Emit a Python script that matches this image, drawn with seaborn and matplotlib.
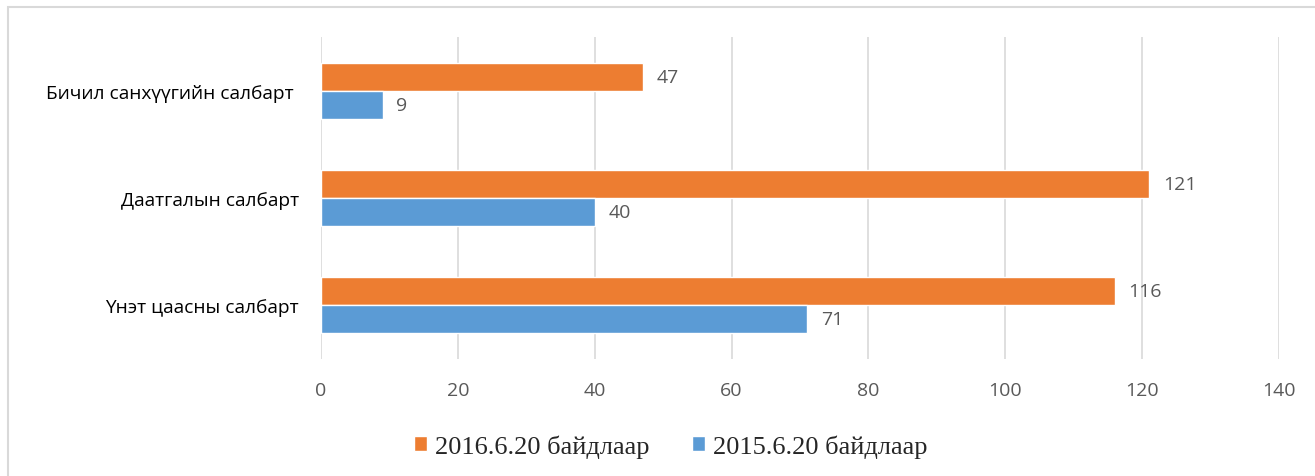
import seaborn as sns
import matplotlib.pyplot as plt
import pandas as pd
from matplotlib.patches import Rectangle

categories = ["Бичил санхүүгийн салбарт ", "Даатгалын салбарт", "Үнэт цаасны салбарт"]
series_names = ["2016.6.20 байдлаар", "2015.6.20 байдлаар"]
values_2016 = [47, 121, 116]
values_2015 = [9, 40, 71]
x_ticks = [0, 20, 40, 60, 80, 100, 120, 140]

df = pd.DataFrame({
    "salbar": categories * 2,
    "on": [series_names[0]] * 3 + [series_names[1]] * 3,
    "too": values_2016 + values_2015,
})

sns.set_theme(style="white")
plt.rcParams['font.family'] = ['Open Sans', 'DejaVu Sans']

fig = plt.figure(figsize=(13.15, 4.77), dpi=100)
ax = fig.add_axes([0.2441, 0.2453, 0.9726 - 0.2441, 0.9203 - 0.2453])

ax = sns.barplot(data=df, x="too", y="salbar", hue="on", order=categories,
                 hue_order=series_names, palette=["#ED7D31", "#5B9BD5"],
                 orient="h", width=0.52, gap=0, saturation=1, ax=ax, zorder=3)

for cont in ax.containers:
    ax.bar_label(cont, padding=10, fontsize=14, color="#595959")

ax.set_xlim(0, 140)
ax.set_ylim(2.5, -0.5)
ax.set_xticks(x_ticks)
ax.grid(axis="x", color="#d9d9d9", linewidth=1.2, zorder=0)
for s in ax.spines.values():
    s.set_visible(False)
ax.tick_params(axis="x", length=0, pad=16, labelsize=14, labelcolor="#595959")
ax.tick_params(axis="y", length=0, pad=16, labelsize=13.8, labelcolor="#000000")
ax.set_xlabel("")
ax.set_ylabel("")

ax.legend_.remove()
handles, labels = ax.get_legend_handles_labels()
fig.legend(handles, labels, loc="center", bbox_to_anchor=(0.51, 0.063), ncol=2,
           frameon=False, prop={"family": "Liberation Serif", "size": 19},
           handlelength=0.5, handleheight=0.5, handletextpad=0.3, columnspacing=1.6)

fig.patches.append(Rectangle((8 / 1315, -0.1), 1.2, 1.1 - 8 / 477, transform=fig.transFigure,
                             fill=False, edgecolor="#d9d9d9", linewidth=1.5))

plt.savefig("out.png", dpi=100)
